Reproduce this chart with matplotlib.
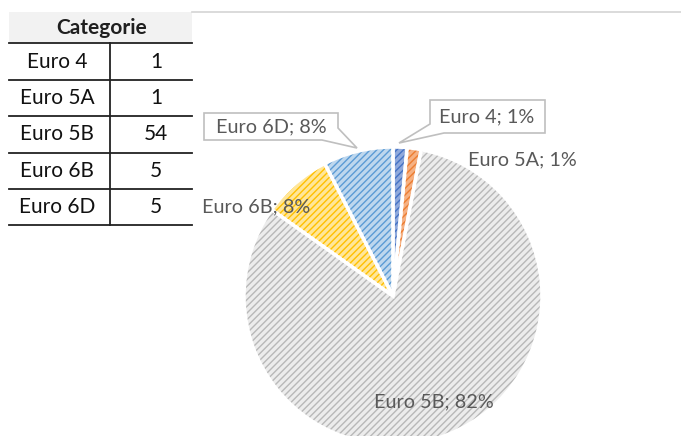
import matplotlib
matplotlib.use("Agg")
import matplotlib.pyplot as plt
from matplotlib.patches import Wedge, Rectangle, Polygon

# ---- data ----
categories = ["Euro 4", "Euro 5A", "Euro 5B", "Euro 6B", "Euro 6D"]
values = [1, 1, 54, 5, 5]
pct_labels = [1, 1, 82, 8, 8]
header = "Categorie"

face_colors = ["#8fa9dc", "#f5b183", "#ececec", "#ffe699", "#bdd7ee"]
hatch_colors = ["#4472c4", "#ed7d31", "#b8b8b8", "#ffc000", "#5b9bd5"]

W, H = 681, 436
fig = plt.figure(figsize=(W / 100, H / 100), dpi=100)
ax = fig.add_axes([0, 0, 1, 1])
plt.rcParams['hatch.linewidth'] = 1.0

def Y(y):
    return H - y

FONT = "Lato"

# ---- pie ----
cx, cy, r = 393, 296, 149
wedges, _ = ax.pie(values, colors=face_colors, startangle=90, counterclock=False,
                   center=(cx, Y(cy)), radius=r,
                   wedgeprops=dict(edgecolor="white", linewidth=0))
for w, hc in zip(wedges, hatch_colors):
    hw = Wedge(w.center, w.r, w.theta1, w.theta2, facecolor="none",
               edgecolor=hc, hatch="/////", linewidth=0)
    ax.add_patch(hw)
    ew = Wedge(w.center, w.r, w.theta1, w.theta2, facecolor="none",
               edgecolor="white", linewidth=2.5)
    ax.add_patch(ew)

ax.set_xlim(0, W)
ax.set_ylim(0, H)
ax.set_aspect("auto")
ax.axis("off")

lab_color = "#595959"
lab_fs = 14.3

def lab(i):
    return f"{categories[i]}; {pct_labels[i]}%"

# Euro 4 callout
ax.add_patch(Polygon([(430, Y(100)), (545, Y(100)), (545, Y(133)), (444, Y(133)),
                      (399, Y(143)), (430, Y(124))], closed=True,
                     facecolor="white", edgecolor="#bfbfbf", linewidth=1.2, zorder=5))
ax.text(487, Y(117), lab(0), ha="center", va="center", fontsize=lab_fs,
        color=lab_color, family=FONT, zorder=6)
# Euro 5A
ax.text(522, Y(160), lab(1), ha="center", va="center", fontsize=lab_fs,
        color=lab_color, family=FONT, zorder=6)
# Euro 5B
ax.text(434, Y(402), lab(2), ha="center", va="center", fontsize=lab_fs,
        color=lab_color, family=FONT, zorder=6)
# Euro 6B
ax.text(256, Y(207), lab(3), ha="center", va="center", fontsize=lab_fs,
        color=lab_color, family=FONT, zorder=6)
# Euro 6D callout
ax.add_patch(Polygon([(204, Y(113)), (338, Y(113)), (338, Y(128)), (357, Y(148)),
                      (322, Y(140)), (204, Y(140))], closed=True,
                     facecolor="white", edgecolor="#bfbfbf", linewidth=1.2, zorder=5))
ax.text(271, Y(127), lab(4), ha="center", va="center", fontsize=lab_fs,
        color=lab_color, family=FONT, zorder=6)

# ---- table ----
x0, xm, x1 = 9, 110, 192
ax.add_patch(Rectangle((x0, Y(43)), x1 - x0, 31, facecolor="#f2f2f2",
                       edgecolor="none", zorder=1))
ax.plot([x1, W], [Y(12.5), Y(12.5)], color="#d4d4d4", lw=1.2)
ax.text((x0 + x1) / 2 + 1, Y(28), header, ha="center", va="center", fontsize=15,
        fontweight="bold", color="#1f1f1f", family=FONT)
row_h = 36.4
top = 43.5
for i, (c, v) in enumerate(zip(categories, values)):
    yc = top + row_h * (i + 0.5)
    ax.text(57, Y(yc), c, ha="center", va="center", fontsize=15, color="#111111",
            family=FONT)
    ax.text(156, Y(yc), str(v), ha="center", va="center", fontsize=15,
            color="#111111", family=FONT)
for i in range(len(categories) + 1):
    yl = top + row_h * i
    ax.plot([x0, x1], [Y(yl), Y(yl)], color="#222222", lw=1.3)
ax.plot([xm, xm], [Y(top), Y(top + row_h * len(categories))], color="#222222", lw=1.3)

fig.savefig("out.png", dpi=100)
